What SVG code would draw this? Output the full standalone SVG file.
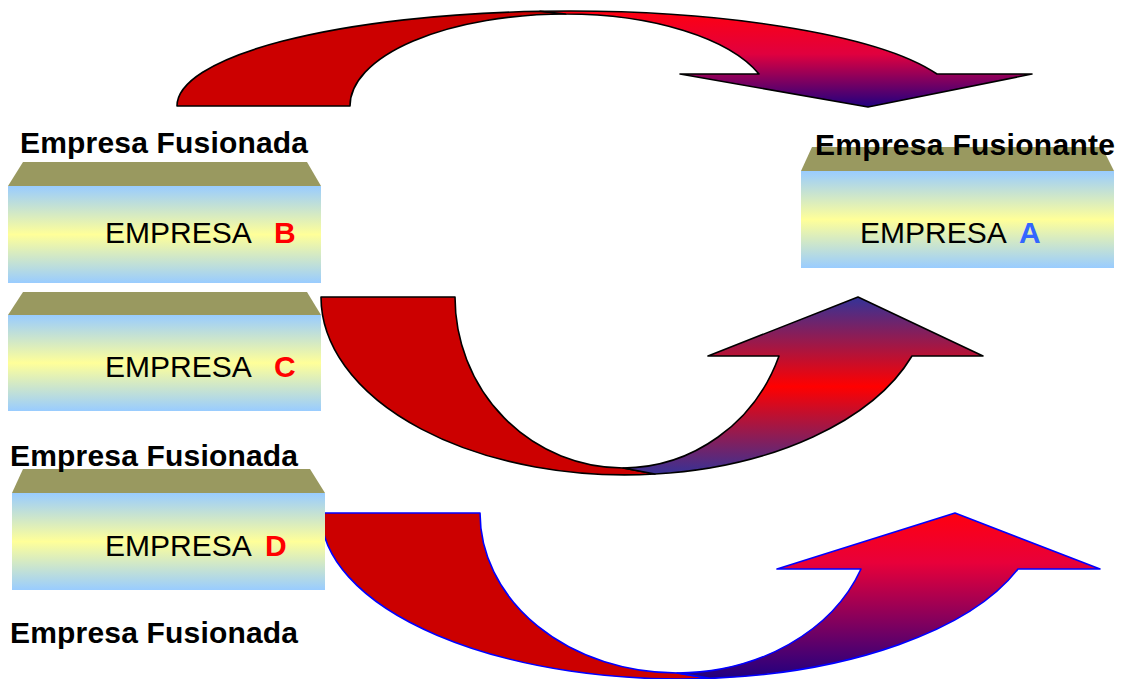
<svg xmlns="http://www.w3.org/2000/svg" width="1121" height="679" viewBox="0 0 1121 679">
<defs>
<linearGradient id="boxGrad" x1="0" y1="0" x2="0" y2="1">
<stop offset="0" stop-color="#99CCFF"/>
<stop offset="0.5" stop-color="#FFFF99"/>
<stop offset="1" stop-color="#99CCFF"/>
</linearGradient>
<linearGradient id="gradTop" gradientUnits="userSpaceOnUse" x1="0" y1="11" x2="0" y2="107">
<stop offset="0" stop-color="#FF0010"/>
<stop offset="0.45" stop-color="#E0003F"/>
<stop offset="1" stop-color="#200080"/>
</linearGradient>
<linearGradient id="gradMid" gradientUnits="userSpaceOnUse" x1="0" y1="297" x2="0" y2="476">
<stop offset="0" stop-color="#333399"/>
<stop offset="0.5" stop-color="#FF0000"/>
<stop offset="1" stop-color="#333399"/>
</linearGradient>
<linearGradient id="gradBot" gradientUnits="userSpaceOnUse" x1="0" y1="513" x2="0" y2="679">
<stop offset="0" stop-color="#FF0010"/>
<stop offset="0.3" stop-color="#E8003A"/>
<stop offset="1" stop-color="#200080"/>
</linearGradient>
</defs>
<style>
.top{fill:#999960}
.face{fill:url(#boxGrad)}
.name{font-family:"Liberation Sans",Arial,sans-serif;font-size:30px;fill:#000}
.letter{font-weight:bold}
.label{font-family:"Liberation Sans",Arial,sans-serif;font-size:30px;font-weight:bold;fill:#000}
.back{fill:#CC0000}
.blk{stroke:#000;stroke-width:1.6;stroke-linejoin:round}
.blu{stroke:#0000FF;stroke-width:1.6;stroke-linejoin:round}
</style>
<g id="connectors">
<g id="arrow-top">
<path class="back blk" d="M177,106 A391.5,95 0 0 1 540,11.3 L566,14 A216,92 0 0 0 350,106 Z"/>
<path class="blk" fill="url(#gradTop)" d="M566,14 L540,11.3 A391.5,95 0 0 1 937,74 L1032,74 L868,107 L680,74 L759,74 A206,92 0 0 0 566,14 Z"/>
</g>
<g id="arrow-mid">
<path class="back blk" d="M321,297 A304,178 0 0 0 655,474 L623,468 A168,171 0 0 1 455,297 Z"/>
<path class="blk" fill="url(#gradMid)" d="M623,468 L655,474 A304,178 0 0 0 912,356 L983,356 L858,297 L708,356 L779,356 A167,171 0 0 1 623,468 Z"/>
</g>
<g id="arrow-bot">
<path class="back blu" d="M321,513 A359,166 0 0 0 710,678.4 L677,673 A197,160 0 0 1 480,513 Z"/>
<path class="blu" fill="url(#gradBot)" d="M677,673 L710,678.4 A359,166 0 0 0 1018,569 L1100,569 L955,513 L777,569 L861,569 A197,160 0 0 1 677,673 Z"/>
</g>
</g>
<g id="node-b">
<polygon class="top" points="23,162 307,162 321,186 8,186"/>
<rect class="face" x="8" y="186" width="313" height="97"/>
<text class="name" x="105" y="243">EMPRESA <tspan class="letter" x="274" fill="#FF0000">B</tspan></text>
</g>
<g id="node-c">
<polygon class="top" points="23,292 307,292 321,315 8,315"/>
<rect class="face" x="8" y="315" width="313" height="96"/>
<text class="name" x="105" y="377">EMPRESA <tspan class="letter" x="274" fill="#FF0000">C</tspan></text>
</g>
<g id="node-d">
<polygon class="top" points="23,469 310,469 325,493 12,493"/>
<rect class="face" x="12" y="493" width="313" height="97"/>
<text class="name" x="105" y="556">EMPRESA <tspan class="letter" x="265" fill="#FF0000">D</tspan></text>
</g>
<g id="node-a">
<polygon class="top" points="812,147 1102,147 1114,171 801,171"/>
<rect class="face" x="801" y="171" width="313" height="97"/>
<text class="name" x="860" y="243">EMPRESA <tspan class="letter" x="1019" fill="#3366FF">A</tspan></text>
</g>
<g id="labels">
<text class="label" x="20" y="153" textLength="288">Empresa Fusionada</text>
<text class="label" x="815" y="155" textLength="300">Empresa Fusionante</text>
<text class="label" x="10" y="466" textLength="288">Empresa Fusionada</text>
<text class="label" x="10" y="643" textLength="288">Empresa Fusionada</text>
</g>
</svg>
